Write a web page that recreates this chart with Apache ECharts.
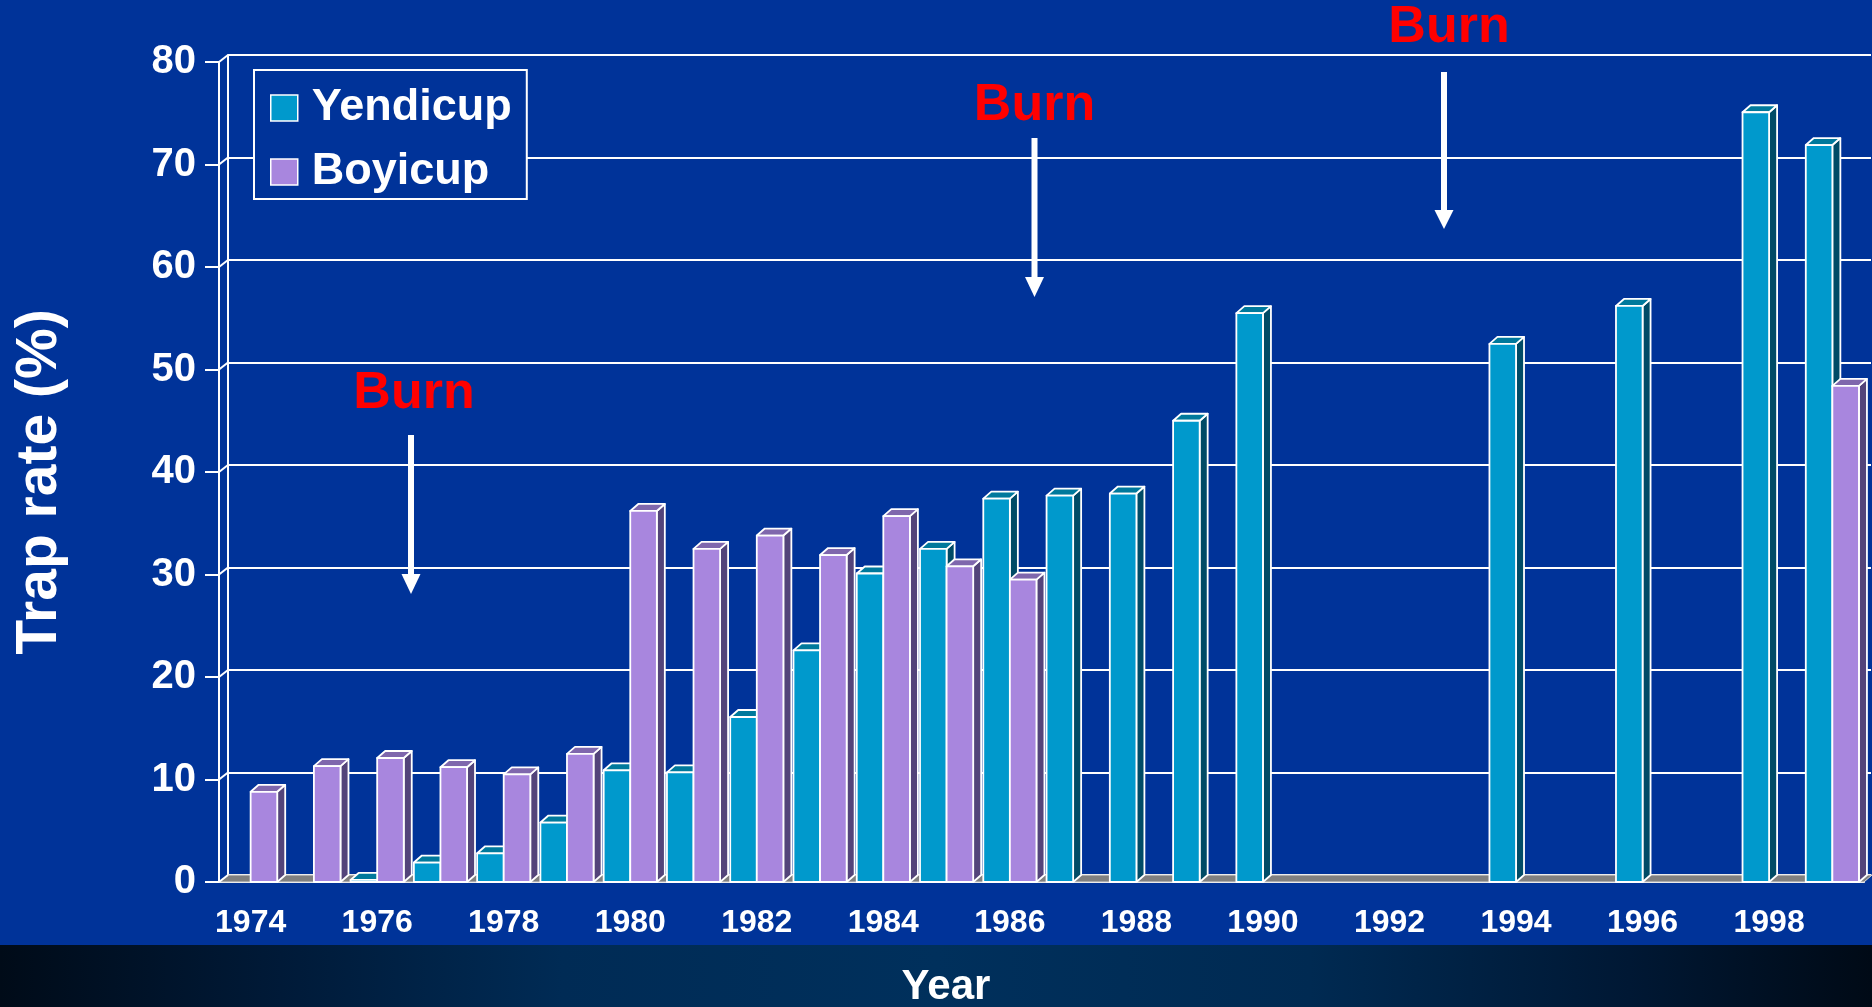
<!DOCTYPE html>
<html>
<head>
<meta charset="utf-8">
<script src="https://cdn.jsdelivr.net/npm/echarts@6/dist/echarts.min.js"></script>
<style>
  html, body { margin: 0; padding: 0; background: #003399; }
  #chart { width: 1872px; height: 1007px; }
</style>
</head>
<body>
<div id="chart"></div>
<script>
// x axis: survey years
const years = ['1974', '1975', '1976', '1977', '1978', '1979', '1980', '1981', '1982', '1983',
  '1984', '1985', '1986', '1987', '1988', '1989', '1990', '1991', '1992', '1993',
  '1994', '1995', '1996', '1997', '1998', '1999'];

// trap rate (%) per year, null = not trapped that year
const yendicup = [null, null, 0.2, 1.9, 2.8, 5.8, 10.9, 10.7, 16.1, 22.6,
  30.1, 32.5, 37.4, 37.7, 37.9, 45.0, 55.5, null, null, null,
  52.5, null, 56.2, null, 75.1, 71.9];
const boyicup = [8.8, 11.3, 12.1, 11.2, 10.5, 12.5, 36.2, 32.5, 33.8, 31.9,
  35.7, 30.8, 29.5, null, null, null, null, null, null, null,
  null, null, null, null, null, 48.4];

// y axis ticks
const yTicks = [0, 10, 20, 30, 40, 50, 60, 70, 80];

const FONT = 'Liberation Sans';
const DX = 8, DY = -7; // 3d depth of the bars and the back wall

// draws one 3d column (front, top and right side) from the axis scales
function column(slot, colors) {
  return function (params, api) {
    const v = api.value(1);
    if (v == null || isNaN(v)) return;
    const idx = api.value(0);
    const band = api.size([1, 0])[0];
    const w = band * 0.42;
    const top = api.coord([idx, v]);
    const base = api.coord([idx, 0]);
    const x0 = slot === 0 ? top[0] - w : top[0];
    const x1 = x0 + w;
    const y0 = top[1], y1 = base[1];
    const line = { stroke: '#ffffff', lineWidth: 1.8, lineJoin: 'round' };
    return {
      type: 'group',
      children: [
        { type: 'polygon', shape: { points: [[x1, y1], [x1 + DX, y1 + DY], [x1 + DX, y0 + DY], [x1, y0]] },
          style: Object.assign({ fill: colors[2] }, line) },
        { type: 'polygon', shape: { points: [[x0, y0], [x0 + DX, y0 + DY], [x1 + DX, y0 + DY], [x1, y0]] },
          style: Object.assign({ fill: colors[1] }, line) },
        { type: 'rect', shape: { x: x0, y: y0, width: w, height: y1 - y0 },
          style: Object.assign({ fill: colors[0] }, line) }
      ]
    };
  };
}

const chart = echarts.init(document.getElementById('chart'));

const option = {
  backgroundColor: '#003399',
  animation: false,
  textStyle: { fontFamily: FONT },
  grid: [
    { left: 219, right: 8, top: 62, bottom: 125 },
    { left: 219 + 9, right: 1, top: 62 - 7, bottom: 125 + 7 } // back wall
  ],
  legend: {
    orient: 'vertical',
    left: 254,
    top: 70,
    backgroundColor: '#003399',
    borderColor: '#ffffff',
    borderWidth: 2,
    padding: [13, 15, 2, 16],
    itemWidth: 27,
    itemHeight: 26,
    itemGap: 14,
    icon: 'rect',
    selectedMode: false,
    itemStyle: { borderColor: '#ffffff', borderWidth: 1.5 },
    textStyle: { color: '#ffffff', fontSize: 45, fontWeight: 'bold', fontFamily: FONT, lineHeight: 50, padding: [0, 0, 0, 9] },
    data: ['Yendicup', 'Boyicup']
  },
  xAxis: [
    {
      type: 'category',
      gridIndex: 0,
      data: years,
      axisLine: { lineStyle: { color: '#ffffff', width: 2 } },
      axisTick: { interval: 0, length: 15, lineStyle: { color: '#ffffff', width: 2 } },
      axisLabel: { interval: 1, margin: 25, color: '#ffffff', fontSize: 32, fontWeight: 'bold', fontFamily: FONT },
      splitLine: { show: false }
    },
    { type: 'category', gridIndex: 1, data: years, show: false }
  ],
  yAxis: [
    {
      type: 'value',
      gridIndex: 0,
      min: 0,
      max: 80,
      interval: 10,
      axisLine: { show: true, lineStyle: { color: '#ffffff', width: 2 } },
      axisTick: { show: true, length: 14, lineStyle: { color: '#ffffff', width: 2 } },
      axisLabel: { margin: 23, color: '#ffffff', fontSize: 40, fontWeight: 'bold', fontFamily: FONT },
      splitLine: { show: false }
    },
    {
      type: 'value',
      gridIndex: 1,
      min: 0,
      max: 80,
      interval: 10,
      axisLine: { show: true, lineStyle: { color: '#ffffff', width: 2 } },
      axisTick: { show: false },
      axisLabel: { show: false },
      splitLine: { show: true, lineStyle: { color: '#ffffff', width: 2 } }
    }
  ],
  graphic: [
    // dark band at the bottom of the slide
    {
      type: 'rect', z: -10, silent: true,
      shape: { x: 0, y: 945, width: 1872, height: 62 },
      style: {
        fill: new echarts.graphic.LinearGradient(0, 0, 1, 0, [
          { offset: 0, color: '#000b18' },
          { offset: 0.15, color: '#001a38' },
          { offset: 0.3, color: '#002b55' },
          { offset: 0.5, color: '#00305c' },
          { offset: 0.7, color: '#002a52' },
          { offset: 0.87, color: '#001834' },
          { offset: 1, color: '#000a16' }
        ])
      }
    },
    {
      type: 'text', x: 946, y: 987,
      style: { text: 'Year', fill: '#ffffff', font: 'bold 42px "Liberation Sans"', align: 'center', verticalAlign: 'middle' }
    },
    {
      type: 'text', x: 40, y: 482, rotation: Math.PI / 2,
      style: { text: 'Trap rate (%)', fill: '#ffffff', font: 'bold 57px "Liberation Sans"', align: 'center', verticalAlign: 'middle' }
    },
    // burn annotations
    { type: 'text', x: 414, y: 394, style: { text: 'Burn', fill: '#ff0000', font: 'bold 52px "Liberation Sans"', align: 'center', verticalAlign: 'middle' } },
    { type: 'line', shape: { x1: 411, y1: 435, x2: 411, y2: 578 }, style: { stroke: '#ffffff', lineWidth: 6 } },
    { type: 'polygon', shape: { points: [[401.5, 574], [420.5, 574], [411, 594]] }, style: { fill: '#ffffff' } },

    { type: 'text', x: 1034.5, y: 106, style: { text: 'Burn', fill: '#ff0000', font: 'bold 52px "Liberation Sans"', align: 'center', verticalAlign: 'middle' } },
    { type: 'line', shape: { x1: 1034.5, y1: 138, x2: 1034.5, y2: 280 }, style: { stroke: '#ffffff', lineWidth: 6 } },
    { type: 'polygon', shape: { points: [[1025, 277], [1044, 277], [1034.5, 297]] }, style: { fill: '#ffffff' } },

    { type: 'text', x: 1449, y: 28, style: { text: 'Burn', fill: '#ff0000', font: 'bold 52px "Liberation Sans"', align: 'center', verticalAlign: 'middle' } },
    { type: 'line', shape: { x1: 1444, y1: 72, x2: 1444, y2: 213 }, style: { stroke: '#ffffff', lineWidth: 6 } },
    { type: 'polygon', shape: { points: [[1434.5, 210], [1453.5, 210], [1444, 229]] }, style: { fill: '#ffffff' } }
  ],
  series: [
    // grey floor under the columns
    {
      type: 'custom',
      name: 'floor',
      xAxisIndex: 0,
      yAxisIndex: 0,
      z: 1,
      silent: true,
      data: [[0, 0]],
      renderItem: function (params, api) {
        const half = api.size([1, 0])[0] / 2;
        const first = api.coord([0, 0]);
        const last = api.coord([years.length - 1, 0]);
        const a = [first[0] - half, first[1]];
        const b = [last[0] + half, last[1]];
        return {
          type: 'polygon',
          shape: { points: [a, b, [b[0] + DX, b[1] + DY], [a[0] + 9, a[1] + DY]] },
          style: { fill: '#808080', stroke: '#d8d8d8', lineWidth: 1 }
        };
      }
    },
    // little diagonals joining front axis ticks to the back wall lines
    {
      type: 'custom',
      name: 'depth',
      xAxisIndex: 0,
      yAxisIndex: 0,
      z: 1,
      silent: true,
      data: yTicks.map((v) => [0, v]),
      renderItem: function (params, api) {
        const half = api.size([1, 0])[0] / 2;
        const p = api.coord([0, api.value(1)]);
        const x = p[0] - half;
        return {
          type: 'line',
          shape: { x1: x, y1: p[1], x2: x + 9, y2: p[1] + DY },
          style: { stroke: '#ffffff', lineWidth: 2 }
        };
      }
    },
    {
      type: 'custom',
      name: 'Yendicup',
      xAxisIndex: 0,
      yAxisIndex: 0,
      z: 3,
      itemStyle: { color: '#0099cc' },
      data: yendicup.map((v, i) => [i, v]),
      renderItem: column(0, ['#0099cc', '#00799c', '#004b66'])
    },
    {
      type: 'custom',
      name: 'Boyicup',
      xAxisIndex: 0,
      yAxisIndex: 0,
      z: 4,
      itemStyle: { color: '#a886de' },
      data: boyicup.map((v, i) => [i, v]),
      renderItem: column(1, ['#a886de', '#7f67ad', '#53447a'])
    }
  ]
};

chart.setOption(option);
</script>
</body>
</html>
